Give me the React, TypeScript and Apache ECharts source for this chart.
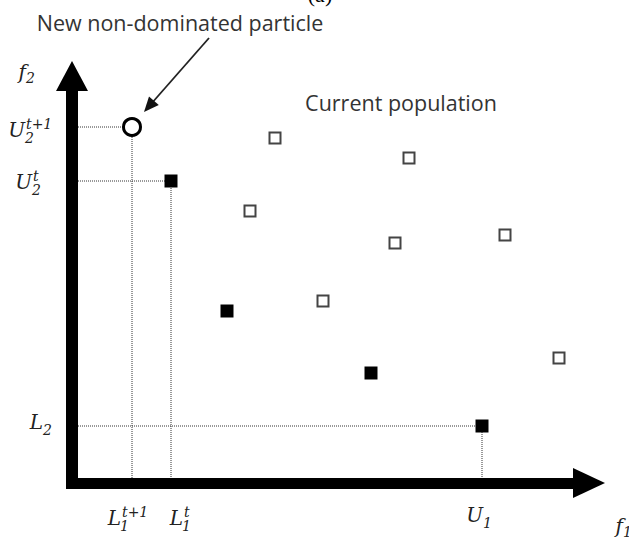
import { useEffect, useRef } from 'react';
import * as echarts from 'echarts';

// ---- data (f1, f2 in chart units) ----
const currentPopulation = [[203, 345], [178, 272], [337, 325], [323, 240], [433, 248], [251, 182], [487, 125]];
const nonDominated = [[99, 302], [155, 172], [299, 110], [410, 57]];
const newParticle = [[60, 356]];
const f1Range = [0, 501];
const f2Range = [0, 392];

// tick labels (main letter, subscript, superscript)
const yTickMain = ['U', 'U', 'L'];
const yTickSub = ['2', '2', '2'];
const yTickSup = ['t+1', 't', ''];
const xTickMain = ['L', 'L', 'U'];
const xTickSub = ['1', '1', '1'];
const xTickSup = ['t+1', 't', ''];
const axisTitleMain = ['f', 'f'];
const axisTitleSub = ['1', '2'];
const annotationTexts = ['New non-dominated particle', 'Current population', '(a)'];

// ---- layout (pixels) ----
const yTickLayout = [
  { dx: -47, dy: 3, subDx: 0 },
  { dx: -40, dy: 1, subDx: 0 },
  { dx: -29, dy: -4, subDx: 0 },
];
const xTickLayout = [
  { dx: -11, dy: 35, subDx: -1 },
  { dx: 12, dy: 35, subDx: -1 },
  { dx: 1, dy: 32, subDx: 0 },
];

const INK = '#222';
const FONT_MAIN = 'italic 20px "DejaVu Serif"';
const FONT_SCRIPT = 'italic 14px "DejaVu Serif"';
const FONT_SANS = '21.5px "Open Sans"';

function mathLabel(x: number, y: number, main: string, sub: string, sup: string, subDx: number, supDy = -6, subDy = 8) {
  return {
    type: 'group',
    children: [
      { type: 'text', x, y, style: { text: main, font: FONT_MAIN, fill: INK, align: 'right', verticalAlign: 'middle' } },
      { type: 'text', x: x + 1, y: y + supDy, style: { text: sup, font: FONT_SCRIPT, fill: INK, align: 'left', verticalAlign: 'middle' } },
      { type: 'text', x: x + subDx, y: y + subDy, style: { text: sub, font: FONT_SCRIPT, fill: INK, align: 'left', verticalAlign: 'middle' } },
    ],
  };
}

export default function App() {
  const ref = useRef<HTMLDivElement>(null);

  useEffect(() => {
    if (!ref.current) return;
    const chart = echarts.init(ref.current, null, { renderer: 'svg' });

    const guidePoints = [newParticle[0], nonDominated[0], nonDominated[nonDominated.length - 1]];

    const guideSeries = guidePoints.map((p) => ({
      type: 'line',
      data: [[f1Range[0], p[1]], [p[0], p[1]], [p[0], f2Range[0]]],
      symbol: 'none',
      silent: true,
      z: 1,
      lineStyle: { color: '#333', width: 1, type: 'dotted' },
    }));

    const option: any = {
      animation: false,
      backgroundColor: '#fff',
      grid: { left: 72, top: 91, width: 501, height: 392, outerBoundsMode: 'none' },
      xAxis: {
        type: 'value',
        min: f1Range[0],
        max: f1Range[1],
        z: 10,
        axisLine: {
          show: true,
          symbol: ['none', 'triangle'],
          symbolSize: [30, 32],
          symbolOffset: [0, 16],
          lineStyle: { color: '#000', width: 11, cap: 'square' },
        },
        axisTick: { show: false },
        axisLabel: { show: false },
        splitLine: { show: false },
      },
      yAxis: {
        type: 'value',
        min: f2Range[0],
        max: f2Range[1],
        z: 10,
        axisLine: {
          show: true,
          symbol: ['none', 'triangle'],
          symbolSize: [32, 30],
          symbolOffset: [0, 15],
          lineStyle: { color: '#000', width: 12, cap: 'square' },
        },
        axisTick: { show: false },
        axisLabel: { show: false },
        splitLine: { show: false },
      },
      graphic: [
        {
          type: 'text',
          x: 401,
          y: 102,
          style: { text: annotationTexts[1], font: FONT_SANS, fill: '#333', align: 'center', verticalAlign: 'middle' },
        },
        {
          type: 'text',
          x: 320,
          y: -6,
          style: { text: annotationTexts[2], font: '22px "Liberation Serif"', fill: '#000', align: 'center', verticalAlign: 'middle' },
        },
      ],
      series: [
        ...guideSeries,
        {
          type: 'scatter',
          data: currentPopulation,
          symbol: 'rect',
          symbolSize: 11,
          z: 3,
          itemStyle: { color: '#fff', borderColor: '#444', borderWidth: 2, opacity: 1 },
        },
        {
          type: 'scatter',
          data: nonDominated,
          symbol: 'rect',
          symbolSize: 13,
          z: 3,
          itemStyle: { color: '#000', opacity: 1 },
        },
        {
          type: 'scatter',
          data: newParticle,
          symbol: 'circle',
          symbolSize: 17,
          z: 3,
          itemStyle: { color: '#fff', borderColor: '#000', borderWidth: 3, opacity: 1 },
        },
        // y tick labels
        {
          type: 'custom',
          clip: false,
          silent: true,
          z: 5,
          data: guidePoints.map((p, i) => [f1Range[0], p[1], i]),
          renderItem: (_params: any, api: any) => {
            const c = api.coord([api.value(0), api.value(1)]);
            const i = api.value(2);
            const l = yTickLayout[i];
            return mathLabel(c[0] + l.dx, c[1] + l.dy, yTickMain[i], yTickSub[i], yTickSup[i], l.subDx);
          },
        },
        // x tick labels
        {
          type: 'custom',
          clip: false,
          silent: true,
          z: 5,
          data: guidePoints.map((p, i) => [p[0], f2Range[0], i]),
          renderItem: (_params: any, api: any) => {
            const c = api.coord([api.value(0), api.value(1)]);
            const i = api.value(2);
            const l = xTickLayout[i];
            return mathLabel(c[0] + l.dx, c[1] + l.dy, xTickMain[i], xTickSub[i], xTickSup[i], l.subDx);
          },
        },
        // axis titles f1, f2
        {
          type: 'custom',
          clip: false,
          silent: true,
          z: 5,
          data: [[f1Range[1], f2Range[0], 0], [f1Range[0], f2Range[1], 1]],
          renderItem: (_params: any, api: any) => {
            const c = api.coord([api.value(0), api.value(1)]);
            const i = api.value(2);
            if (i === 0) return mathLabel(c[0] + 50, c[1] + 43, axisTitleMain[0], axisTitleSub[0], '', 0, -6, 6);
            return mathLabel(c[0] - 46, c[1] - 19, axisTitleMain[1], axisTitleSub[1], '', 0, -6, 6);
          },
        },
        // annotation arrow to new particle
        {
          type: 'custom',
          clip: false,
          silent: true,
          z: 5,
          data: newParticle,
          renderItem: (_params: any, api: any) => {
            const c = api.coord([api.value(0), api.value(1)]);
            const tip = [c[0] + 12, c[1] - 15];
            const start = [c[0] + 77, c[1] - 89];
            const dx = tip[0] - start[0];
            const dy = tip[1] - start[1];
            const len = Math.sqrt(dx * dx + dy * dy);
            const ux = dx / len;
            const uy = dy / len;
            const hl = 15;
            const hw = 6.5;
            const bx = tip[0] - ux * hl;
            const by = tip[1] - uy * hl;
            return {
              type: 'group',
              children: [
                {
                  type: 'line',
                  shape: { x1: start[0], y1: start[1], x2: bx + ux * 2, y2: by + uy * 2 },
                  style: { stroke: '#222', lineWidth: 1.8 },
                },
                {
                  type: 'polygon',
                  shape: { points: [tip, [bx - uy * hw, by + ux * hw], [bx + uy * hw, by - ux * hw]] },
                  style: { fill: '#111' },
                },
                {
                  type: 'text',
                  x: c[0] + 48,
                  y: c[1] - 105,
                  style: { text: annotationTexts[0], font: FONT_SANS, fill: '#333', align: 'center', verticalAlign: 'middle' },
                },
              ],
            };
          },
        },
      ],
    };

    chart.setOption(option);
    return () => chart.dispose();
  }, []);

  return (
    <div
      ref={ref}
      style={{ position: 'fixed', left: 0, top: 0, width: 629, height: 538, background: '#fff' }}
    />
  );
}
